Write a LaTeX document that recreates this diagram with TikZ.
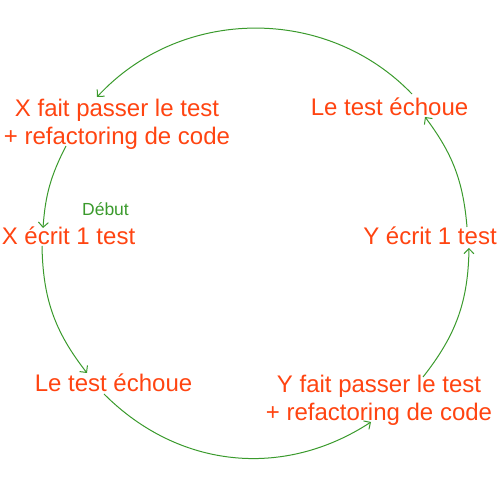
\documentclass[tikz,border=0pt]{standalone}
\usepackage{fontspec}
\setmainfont{Liberation Sans}
\usepackage{xcolor}
\usetikzlibrary{arrows.meta}
\definecolor{tddred}{HTML}{FF4411}
\definecolor{tddgreen}{HTML}{3A9A2C}

\begin{document}
\begin{tikzpicture}[x=1pt, y=1pt,
  phase/.style={text=tddred, inner sep=0pt, align=center, font=\fontsize{24}{28.5}\selectfont},
  startlbl/.style={text=tddgreen, inner sep=0pt, font=\fontsize{17.5}{21}\selectfont},
  turn/.style={tddgreen, line width=1pt, -{Straight Barb[length=5pt,width=10pt]}}
]
\useasboundingbox (0,0) rectangle (500,500);

\node[phase, anchor=base] (ef1) at (389.5,384) {Le test échoue};
\node[phase, anchor=north] (xp) at (117,401.5) {X fait passer le test\\+ refactoring de code};
\node[phase, anchor=base] (xe) at (68.5,255) {X écrit 1 test};
\node[startlbl, anchor=base] (deb) at (105.5,284) {Début};
\node[phase, anchor=base] (ef2) at (113.5,108) {Le test échoue};
\node[phase, anchor=north] (yp) at (379,125.5) {Y fait passer le test\\+ refactoring de code};
\node[phase, anchor=base] (ye) at (430,255) {Y écrit 1 test};

\draw[turn] ([shift={(22.5,22)}]ef1.base) to[bend right=46.7] ([shift={(-20,1.5)}]xp.north);
\draw[turn] ([shift={(-51,-47.5)}]xp.north) to[bend right=11.6] ([shift={(-25.5,17)}]xe.base);
\draw[turn] ([shift={(-26.5,-1)}]xe.base) to[bend right=18.5] ([shift={(-26.5,19)}]ef2.base);
\draw[turn] ([shift={(-9.5,-2)}]ef2.base) to[bend right=39.1] ([shift={(-8,-47.5)}]yp.north);
\draw[turn] ([shift={(44,-2.5)}]yp.north) to[bend right=18.7] ([shift={(39,-3)}]ye.base);
\draw[turn] ([shift={(37,18)}]ye.base) to[bend right=16.1] ([shift={(35.5,-1)}]ef1.base);
\end{tikzpicture}
\end{document}
